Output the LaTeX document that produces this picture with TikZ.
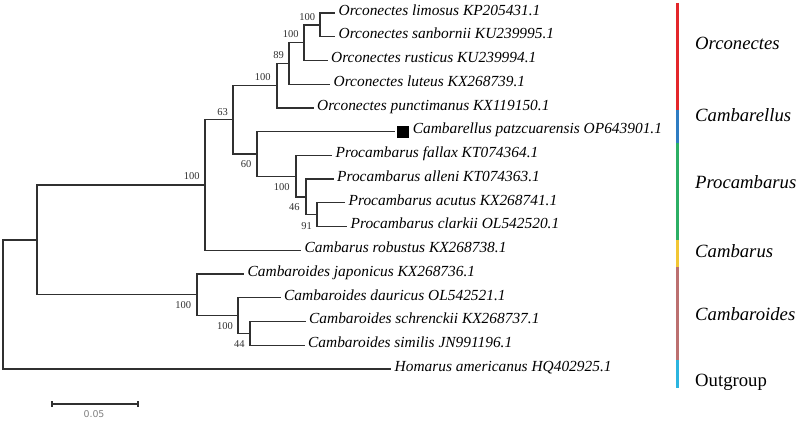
\documentclass[tikz,border=0pt]{standalone}
\usepackage{fontspec}
\setmainfont{Liberation Serif}
\newfontfamily\scalefont{DejaVu Sans}
\definecolor{treegray}{HTML}{303030}
\definecolor{cred}{HTML}{E3262A}
\definecolor{cblue}{HTML}{2F7CC2}
\definecolor{cgreen}{HTML}{2BAF64}
\definecolor{cyellow}{HTML}{F2C634}
\definecolor{crose}{HTML}{BC7070}
\definecolor{ccyan}{HTML}{2BB5E0}
\begin{document}
\begin{tikzpicture}[x=1pt,y=-1pt,
  br/.style={draw=treegray,line width=1.3pt},
  leaf/.style={anchor=west,inner xsep=3.5pt,inner ysep=0pt,font=\fontsize{15.4}{16}\selectfont\itshape,text height=0.68em,text depth=0.22em},
  boot/.style={inner sep=0pt,font=\fontsize{10.5}{11}\selectfont,text=treegray},
  grp/.style={anchor=west,inner sep=0pt,font=\fontsize{18.7}{20}\selectfont\itshape},
  seg/.style={line width=3pt}]
\useasboundingbox (0,0) rectangle (800,422);

% leaves
\node[leaf] (l1) at (335,13) {Orconectes limosus KP205431.1};
\node[leaf] (l2) at (335,36.7) {Orconectes sanbornii KU239995.1};
\node[leaf] (l3) at (327.5,60.5) {Orconectes rusticus KU239994.1};
\node[leaf] (l4) at (330,84.2) {Orconectes luteus KX268739.1};
\node[leaf] (l5) at (313.5,107.9) {Orconectes punctimanus KX119150.1};
\node[fill=black,minimum size=12pt,inner sep=0pt] (sq) at (403,131.7) {};
\node[leaf] (l6) at (sq.east) {Cambarellus patzcuarensis OP643901.1};
\node[leaf] (l7) at (332,155.4) {Procambarus fallax KT074364.1};
\node[leaf] (l8) at (333.5,179.1) {Procambarus alleni KT074363.1};
\node[leaf] (l9) at (345,202.8) {Procambarus acutus KX268741.1};
\node[leaf] (l10) at (347,226.6) {Procambarus clarkii OL542520.1};
\node[leaf] (l11) at (301,250.3) {Cambarus robustus KX268738.1};
\node[leaf] (l12) at (244,274) {Cambaroides japonicus KX268736.1};
\node[leaf] (l13) at (280.5,297.8) {Cambaroides dauricus OL542521.1};
\node[leaf] (l14) at (305.5,321.5) {Cambaroides schrenckii KX268737.1};
\node[leaf] (l15) at (304.5,345.2) {Cambaroides similis JN991196.1};
\node[leaf] (l16) at (391,369) {Homarus americanus HQ402925.1};

% internal nodes
\coordinate (A) at (320,24.9);
\coordinate (B) at (304,42.7);
\coordinate (C) at (289,63.4);
\coordinate (D) at (277,85.7);
\coordinate (I) at (317,214.7);
\coordinate (H) at (306,196.9);
\coordinate (G) at (296,176.2);
\coordinate (F) at (257,153.9);
\coordinate (E) at (233,119.8);
\coordinate (J) at (205,185);
\coordinate (N) at (250,333.4);
\coordinate (M) at (238,315.6);
\coordinate (L) at (197,294.8);
\coordinate (K) at (37,239.9);
\coordinate (R) at (3,304.5);

% branches
\draw[br] (A) |- (l1.west);
\draw[br] (A) |- (l2.west);
\draw[br] (B) |- (A);
\draw[br] (B) |- (l3.west);
\draw[br] (C) |- (B);
\draw[br] (C) |- (l4.west);
\draw[br] (D) |- (C);
\draw[br] (D) |- (l5.west);
\draw[br] (I) |- (l9.west);
\draw[br] (I) |- (l10.west);
\draw[br] (H) |- (l8.west);
\draw[br] (H) |- (I);
\draw[br] (G) |- (l7.west);
\draw[br] (G) |- (H);
\draw[br,shorten >=2pt] (F) |- (sq.west);
\draw[br] (F) |- (G);
\draw[br] (E) |- (D);
\draw[br] (E) |- (F);
\draw[br] (J) |- (E);
\draw[br] (J) |- (l11.west);
\draw[br] (N) |- (l14.west);
\draw[br] (N) |- (l15.west);
\draw[br] (M) |- (l13.west);
\draw[br] (M) |- (N);
\draw[br] (L) |- (l12.west);
\draw[br] (L) |- (M);
\draw[br] (K) |- (J);
\draw[br] (K) |- (L);
\draw[br] (R) |- (K);
\draw[br] (R) |- (l16.west);

% bootstrap values
\node[boot] (bA) at (307.3,16.7) {100};
\node[boot] (bB) at (290.7,34.3) {100};
\node[boot] (bC) at (278.7,55) {89};
\node[boot] (bD) at (262.7,76.7) {100};
\node[boot] (bE) at (222.7,111.7) {63};
\node[boot] (bF) at (246,164.3) {60};
\node[boot] (bG) at (281.7,186.7) {100};
\node[boot] (bH) at (294.3,206.7) {46};
\node[boot] (bI) at (306.7,225.7) {91};
\node[boot] (bJ) at (191.7,176) {100};
\node[boot] (bL) at (183.3,305) {100};
\node[boot] (bM) at (225,326) {100};
\node[boot] (bN) at (239.3,344.3) {44};

% scale bar
\coordinate (s1) at (52,404);
\coordinate (s2) at (138,404);
\draw[br] (s1) -- (s2);
\draw[br] ([yshift=-3pt]s1) -- ([yshift=3pt]s1);
\draw[br] ([yshift=-3pt]s2) -- ([yshift=3pt]s2);
\node[font=\scalefont\fontsize{9.4}{10}\selectfont,text=gray,inner sep=0pt] (sl) at (94,414) {0.05};

% coloured clade bar
\coordinate (b0) at (677,3);
\coordinate (b1) at (677,110);
\coordinate (b2) at (677,143);
\coordinate (b3) at (677,240);
\coordinate (b4) at (677,267);
\coordinate (b5) at (677,360);
\coordinate (b6) at (677,388);
\draw[seg,cred] (b0) -- (b1);
\draw[seg,cblue] (b1) -- (b2);
\draw[seg,cgreen] (b2) -- (b3);
\draw[seg,cyellow] (b3) -- (b4);
\draw[seg,crose] (b4) -- (b5);
\draw[seg,ccyan] (b5) -- (b6);

% group labels
\node[grp] (gO) at (695,43) {Orconectes};
\node[grp] (gCl) at (695,115) {Cambarellus};
\node[grp] (gP) at (695,182) {Procambarus};
\node[grp] (gC) at (695,251) {Cambarus};
\node[grp] (gCd) at (695,314) {Cambaroides};
\node[grp,font=\fontsize{18.7}{20}\selectfont] (gOut) at (695,382) {Outgroup};
\end{tikzpicture}
\end{document}
